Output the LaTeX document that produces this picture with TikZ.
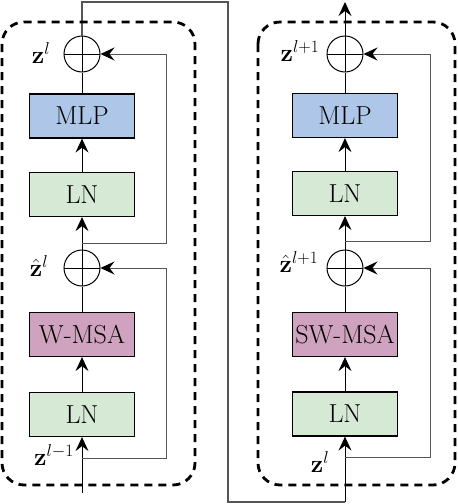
\documentclass[tikz,border=0pt]{standalone}
\usetikzlibrary{arrows.meta}
\definecolor{mlpblue}{HTML}{AEC7E9}
\definecolor{lngreen}{HTML}{D6E9D5}
\definecolor{msapink}{HTML}{CFA3C0}
\definecolor{skipgray}{HTML}{555555}
\begin{document}
\begin{tikzpicture}[x=1pt,y=-1pt,
  blk/.style={draw, line width=1.2pt, minimum width=105pt, minimum height=44pt, inner sep=0pt, font=\fontsize{26}{30}\selectfont},
  addop/.style={draw, circle, minimum size=36pt, inner sep=0pt, line width=1pt,
    path picture={\draw[line width=0.9pt] (path picture bounding box.north) -- (path picture bounding box.south)
      (path picture bounding box.west) -- (path picture bounding box.east);}},
  arr/.style={-{Stealth[length=14pt,width=13pt,inset=5pt,color=black]}, line width=1pt},
  ln/.style={line width=1pt},
  skip/.style={line width=1.3pt, draw=skipgray},
  frame/.style={line width=2.8pt, dash pattern=on 8pt off 6pt, rounded corners=22pt},
  lbl/.style={font=\fontsize{24}{28}\selectfont, inner sep=0pt}
]
\useasboundingbox (0,0) rectangle (458,504);

% left block
\node[blk, fill=lngreen] (ln1) at (82,414.5) {LN};
\node[blk, fill=msapink] (msa1) at (82,334.5) {W-MSA};
\node[addop] (add1) at (82,268) {};
\node[blk, fill=lngreen] (ln2) at (82,194.5) {LN};
\node[blk, fill=mlpblue] (mlp1) at (82,116) {MLP};
\node[addop] (add2) at (82,54) {};

% right block
\node[blk, fill=lngreen] (ln3) at (345,414) {LN};
\node[blk, fill=msapink] (msa2) at (345,334.5) {SW-MSA};
\node[addop] (add3) at (345,268) {};
\node[blk, fill=lngreen] (ln4) at (345,193.5) {LN};
\node[blk, fill=mlpblue] (mlp2) at (345,115.5) {MLP};
\node[addop] (add4) at (345,54) {};

% coordinates
\coordinate (in1) at (82,493);
\coordinate (b1) at (82,458);
\coordinate (s1) at (166,458);
\coordinate (b2) at (82,243);
\coordinate (s2) at (166,243);
\coordinate (t1) at (82,2);
\coordinate (t2) at (228,2);
\coordinate (t3) at (228,502);
\coordinate (t4) at (345,502);
\coordinate (b3) at (345,457);
\coordinate (s3) at (430,457);
\coordinate (b4) at (345,241);
\coordinate (s4) at (430,241);
\coordinate (out) at (345,2);

% left connectors
\draw[arr] (in1) -- (ln1.south);
\draw[arr] (ln1.north) -- (msa1.south);
\draw[ln] (msa1.north) -- (add1.south);
\draw[arr] (add1.north) -- (ln2.south);
\draw[arr] (ln2.north) -- (mlp1.south);
\draw[ln] (mlp1.north) -- (add2.south);
\draw[skip, arr] (b1) -- (s1) |- (add1.east);
\draw[skip, arr] (b2) -- (s2) |- (add2.east);

% link
\draw[skip] (add2.north) -- (t1) -- (t2) -- (t3) -- (t4);
\draw[arr] (t4) -- (ln3.south);

% right connectors
\draw[arr] (ln3.north) -- (msa2.south);
\draw[ln] (msa2.north) -- (add3.south);
\draw[arr] (add3.north) -- (ln4.south);
\draw[arr] (ln4.north) -- (mlp2.south);
\draw[ln] (mlp2.north) -- (add4.south);
\draw[skip, arr] (b3) -- (s3) |- (add3.east);
\draw[skip, arr] (b4) -- (s4) |- (add4.east);
\draw[arr] (add4.north) -- (out);

% frames
\draw[frame] (2,22) rectangle (195,485);
\draw[frame] (258,22) rectangle (455,485);

% labels
\node[lbl] (l1) at (41,53) {$\mathbf{z}^{l}$};
\node[lbl] (l2) at (39,266) {$\hat{\mathbf{z}}^{l}$};
\node[lbl] (l3) at (54,455) {$\mathbf{z}^{l-1}$};
\node[lbl] (l4) at (300,51) {$\mathbf{z}^{l+1}$};
\node[lbl] (l5) at (299,262) {$\hat{\mathbf{z}}^{l+1}$};
\node[lbl] (l6) at (320,462) {$\mathbf{z}^{l}$};
\end{tikzpicture}
\end{document}
